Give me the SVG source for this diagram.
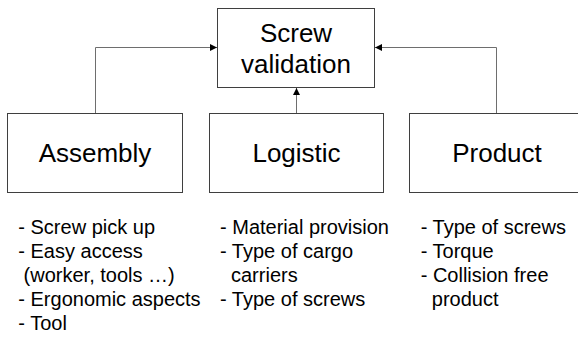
<svg xmlns="http://www.w3.org/2000/svg" width="578" height="337" viewBox="0 0 578 337">
  <style>
    .box { fill: #ffffff; stroke: #3f3f3f; stroke-width: 1; }
    .conn { fill: none; stroke: #6e6e6e; stroke-width: 1; }
    .lbl { font-family: "Liberation Sans", Arial, sans-serif; font-size: 26px; fill: #000; text-anchor: middle; }
    .bul { font-family: "Liberation Sans", Arial, sans-serif; font-size: 20px; fill: #000; }
  </style>
  <defs>
    <marker id="arr" markerUnits="userSpaceOnUse" markerWidth="8" markerHeight="8" refX="7" refY="3.5" orient="auto">
      <path d="M0,0 L7,3.5 L0,7 z" fill="#000"/>
    </marker>
  </defs>
  <rect width="578" height="337" fill="#ffffff"/>
  <g id="connectors">
    <path class="conn" d="M95.5,113 V47.5 H217" marker-end="url(#arr)"/>
    <path class="conn" d="M296.5,113 V88" marker-end="url(#arr)"/>
    <path class="conn" d="M496.5,113 V47.5 H375" marker-end="url(#arr)"/>
  </g>
  <g id="screw-validation">
    <rect class="box" x="217.5" y="8.5" width="157" height="79"/>
    <text class="lbl" x="296" y="41.5">Screw</text>
    <text class="lbl" x="296" y="72.5">validation</text>
  </g>
  <g id="assembly">
    <rect class="box" x="7.5" y="113.5" width="175" height="79"/>
    <text class="lbl" x="95" y="162.3">Assembly</text>
  </g>
  <g id="logistic">
    <rect class="box" x="209.5" y="113.5" width="174" height="79"/>
    <text class="lbl" x="296.5" y="162.3">Logistic</text>
  </g>
  <g id="product">
    <rect class="box" x="409.5" y="113.5" width="176" height="79"/>
    <text class="lbl" x="497" y="162.3">Product</text>
  </g>
  <g id="assembly-notes" class="bul">
    <text x="18.3" y="233.5">- Screw pick up</text>
    <text x="18.3" y="257.7">- Easy access</text>
    <text x="23.6" y="281.9">(worker, tools …)</text>
    <text x="18.3" y="306.1">- Ergonomic aspects</text>
    <text x="18.3" y="330.3">- Tool</text>
  </g>
  <g id="logistic-notes" class="bul">
    <text x="220" y="233.5">- Material provision</text>
    <text x="220" y="257.7">- Type of cargo</text>
    <text x="231" y="281.9">carriers</text>
    <text x="220" y="306.1">- Type of screws</text>
  </g>
  <g id="product-notes" class="bul">
    <text x="420.7" y="233.5">- Type of screws</text>
    <text x="420.7" y="257.7">- Torque</text>
    <text x="420.7" y="281.9">- Collision free</text>
    <text x="431.8" y="306.1">product</text>
  </g>
</svg>
